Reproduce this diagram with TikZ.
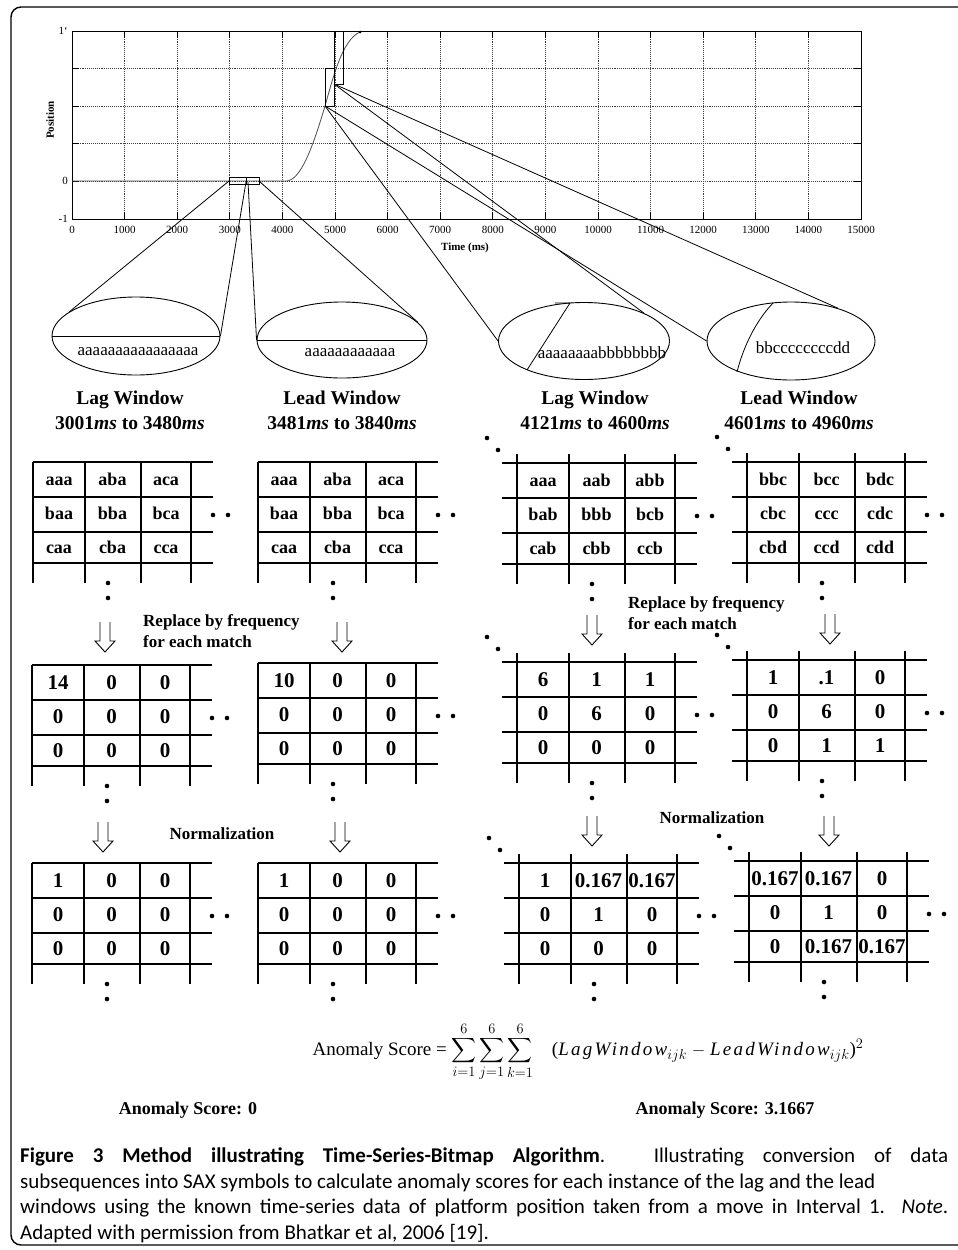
\documentclass[tikz,border=0pt]{standalone}
\usepackage{fontspec}
\usepackage{amsmath}
\setmainfont{Liberation Serif}
\newfontfamily\capfont{Carlito}
\newfontfamily\spacedit[LetterSpace=12]{Liberation Serif}
\usetikzlibrary{shapes.geometric}

\tikzset{
  gridln/.style={line width=1.5pt},
  cone/.style={line width=0.8pt},
  pgrid/.style={densely dotted, line width=0.9pt, black!75},
  zoomell/.style={draw, ellipse, line width=0.9pt, inner sep=0},
  saxtxt/.style={font=\fontsize{18}{18}\selectfont\bfseries, inner sep=0, text height=12pt, text depth=0pt},
  numtxt/.style={font=\fontsize{21}{21}\selectfont\bfseries, inner sep=0, text height=14pt, text depth=0pt},
  winlbl/.style={font=\fontsize{19.5}{25}\selectfont\bfseries, align=center, inner sep=0},
  stringtxt/.style={font=\fontsize{17}{17}\selectfont, inner sep=0},
  steplbl/.style={font=\fontsize{17}{21}\selectfont\bfseries, align=left, inner sep=0},
  ticklbl/.style={font=\fontsize{11}{11}\selectfont, inner sep=0},
}

% grid of one bitmap, #1 = overhang of the rows on the left
\newcommand{\bmgrid}[1]{%
  \foreach \gx in {0,52,108,158} \draw[gridln] (\gx,-0.6*#1) -- (\gx,121);
  \foreach \gy in {0,35,70,101} \draw[gridln] (-#1,\gy) -- (180,\gy);
  \fill (180,53) circle (2.3) (195,53) circle (2.3);
  \fill (75,121) circle (2.3) (75,136) circle (2.3);
}
% dots in front of the bitmaps of the second move
\newcommand{\leaddots}{\fill (-30,-25) circle (2.3) (-19,-13) circle (2.3);}
% cells: #1 name, #2 style, #3 rows
\newcommand{\bmcells}[3]{%
  \foreach \row [count=\r] in {#3} {
    \foreach \celltxt [count=\c] in \row {
      \node[#2] (#1-\r-\c) at ({26+53.5*(\c-1)},{17.5+34*(\r-1)}) {\celltxt};
    }
  }
}
% hollow down arrow, top of shaft at (#1,#2)
\newcommand{\hollowdown}[2]{%
  \draw[line width=0.9pt] (#1-5,#2) -- (#1-5,#2+19) -- (#1-10,#2+19) -- (#1,#2+30)
    -- (#1+10,#2+19) -- (#1+5,#2+19) -- (#1+5,#2);
}

\begin{document}
\begin{tikzpicture}[x=1pt, y=-1pt]
\useasboundingbox (0,0) rectangle (958,1250);
\draw[line width=1.4pt, rounded corners=10pt] (958,7) -- (11,7) -- (11,1245) -- (958,1245);

% Time series plot
\draw[pgrid] foreach \k in {1,...,14} {({72+52.6*\k},31) -- ({72+52.6*\k},219)};
\draw[pgrid] foreach \v in {68.6,106.2,143.8,181.4} {(72,\v) -- (861,\v)};
\foreach \k in {1,...,14} \draw[line width=0.8pt] ({72+52.6*\k},31) -- +(0,7) ({72+52.6*\k},219) -- +(0,-7);
\foreach \v in {68.6,106.2,143.8,181.4} \draw[line width=0.8pt] (72,\v) -- +(7,0) (861,\v) -- +(-7,0);
\draw[line width=1pt] (72,31) rectangle (861,219);
\foreach \k in {0,...,15} \node[ticklbl] (xt\k) at ({72+52.6*\k},230) {\number\numexpr\k*1000\relax};
\node[ticklbl, anchor=east] (yttop) at (68,31) {1‘};
\node[ticklbl, anchor=east] (ytzero) at (68,181) {0};
\node[ticklbl, anchor=east] (ytneg) at (68,219) {-1};
\node[ticklbl, font=\fontsize{11}{11}\selectfont\bfseries, rotate=90] (ylab) at (50,120) {Position};
\node[ticklbl, font=\fontsize{11}{11}\selectfont\bfseries] (xlab) at (465,248) {Time (ms)};
\draw[black!70, line width=0.8pt] (72,181) -- (286,181) .. controls (300,181) and (312,150) .. (325,106)
  .. controls (333,78) and (342,40) .. (360,32);
\fill (360,32) circle (1.5);
\draw[line width=0.9pt] (229,177) rectangle (246,184) (246,177) rectangle (259,184);
\draw[line width=0.9pt] (325,68) rectangle (334,106) (334,31) rectangle (343,84);
\coordinate (bx1w) at (229,181);
\coordinate (bx1e) at (246,182);
\coordinate (bx2w) at (248,182);
\coordinate (bx2e) at (259,181);
\coordinate (bxA) at (325,106);
\coordinate (bxB) at (334,84);

% Zoomed windows
\node[zoomell, minimum width=168pt, minimum height=78pt] (lagA) at (136,336) {};
\node[zoomell, minimum width=170pt, minimum height=76pt] (leadA) at (342,340) {};
\node[zoomell, minimum width=171pt, minimum height=77pt] (lagB) at (584,341) {};
\node[zoomell, minimum width=168pt, minimum height=78pt] (leadB) at (791,341) {};
\draw[cone] (lagA.west) -- (lagA.east);
\draw[cone] (leadA.west) -- (leadA.east);
\draw[cone] (555,303) -- (570,303) -- (527,370);
\draw[cone] (773,303) .. controls (755,322) and (743,348) .. (737,372);
\draw[cone] (bx1w) -- (lagA.160);
\draw[cone] (bx1e) -- (lagA.east);
\draw[cone] (bx2w) -- (leadA.west);
\draw[cone] (bx2e) -- (leadA.13);
\draw[cone] (bxA) -- (lagB.west);
\draw[cone] (bxA) -- (leadB.west);
\draw[cone] (bxB) -- (lagB.25);
\draw[cone] (bxB) -- (leadB.35);
\node[stringtxt] (lagAstr) at (138,352) {aaaaaaaaaaaaaaaa};
\node[stringtxt] (leadAstr) at (350,353) {aaaaaaaaaaaa};
\node[stringtxt] (lagBstr) at (602,353) {aaaaaaaabbbbbbbb};
\node[stringtxt] (leadBstr) at (803,348) {bbccccccccdd};
\node[winlbl] (lagAlbl) at (130,410) {Lag Window\\3001\textit{ms} to 3480\textit{ms}};
\node[winlbl] (leadAlbl) at (342,410) {Lead Window\\3481\textit{ms} to 3840\textit{ms}};
\node[winlbl] (lagBlbl) at (595,410) {Lag Window\\4121\textit{ms} to 4600\textit{ms}};
\node[winlbl] (leadBlbl) at (799,410) {Lead Window\\4601\textit{ms} to 4960\textit{ms}};

% SAX words
\begin{scope}[shift={(33,462)}]
\bmgrid{0}
\bmcells{saxA}{saxtxt}{{aaa,aba,aca},{baa,bba,bca},{caa,cba,cca}}
\end{scope}
\begin{scope}[shift={(258,462)}]
\bmgrid{0}
\bmcells{saxB}{saxtxt}{{aaa,aba,aca},{baa,bba,bca},{caa,cba,cca}}
\end{scope}
\begin{scope}[shift={(517,463)}]
\bmgrid{15} \leaddots
\bmcells{saxC}{saxtxt}{{aaa,aab,abb},{bab,bbb,bcb},{cab,cbb,ccb}}
\end{scope}
\begin{scope}[shift={(747,462)}]
\bmgrid{15} \leaddots
\bmcells{saxD}{saxtxt}{{bbc,bcc,bdc},{cbc,ccc,cdc},{cbd,ccd,cdd}}
\end{scope}

% Frequencies
\hollowdown{105}{622}
\hollowdown{342}{622}
\hollowdown{592}{615}
\hollowdown{830}{614}
\node[steplbl, anchor=west] (repA) at (143,631) {Replace by frequency\\for each match};
\node[steplbl, anchor=west] (repB) at (628,613) {Replace by frequency\\for each match};
\begin{scope}[shift={(32,665)}]
\bmgrid{0}
\bmcells{frqA}{numtxt}{{14,0,0},{0,0,0},{0,0,0}}
\end{scope}
\begin{scope}[shift={(258,663)}]
\bmgrid{0}
\bmcells{frqB}{numtxt}{{10,0,0},{0,0,0},{0,0,0}}
\end{scope}
\begin{scope}[shift={(517,662)}]
\bmgrid{15} \leaddots
\bmcells{frqC}{numtxt}{{6,1,1},{0,6,0},{0,0,0}}
\end{scope}
\begin{scope}[shift={(747,660)}]
\bmgrid{15} \leaddots
\bmcells{frqD}{numtxt}{{1,.1,0},{0,6,0},{0,1,1}}
\end{scope}

% Normalization
\hollowdown{103}{822}
\hollowdown{340}{822}
\hollowdown{592}{816}
\hollowdown{829}{816}
\node[steplbl] (normA) at (222,834) {Normalization};
\node[steplbl] (normB) at (712,818) {Normalization};
\begin{scope}[shift={(32,863)}]
\bmgrid{0}
\bmcells{nrmA}{numtxt}{{1,0,0},{0,0,0},{0,0,0}}
\end{scope}
\begin{scope}[shift={(258,863)}]
\bmgrid{0}
\bmcells{nrmB}{numtxt}{{1,0,0},{0,0,0},{0,0,0}}
\end{scope}
\begin{scope}[shift={(519,863)}]
\bmgrid{15} \leaddots
\bmcells{nrmC}{numtxt}{{1,0.167,0.167},{0,1,0},{0,0,0}}
\end{scope}
\begin{scope}[shift={(749,861)}]
\bmgrid{15} \leaddots
\bmcells{nrmD}{numtxt}{{0.167,0.167,0},{0,1,0},{0,0.167,0.167}}
\end{scope}

% Score
\node[inner sep=0, font=\fontsize{19}{22}\selectfont] (score) at (588,1052)
  {Anomaly Score = $\displaystyle\sum_{i=1}^{6}\sum_{j=1}^{6}\sum_{k=1}^{6}$\quad
   ({\spacedit\itshape LagWindow}$_{ijk}$ $-$ {\spacedit\itshape LeadWindow}$_{ijk}$)$^2$};
\node[inner sep=0, font=\fontsize{18}{18}\selectfont\bfseries] (scoreA) at (188,1110) {Anomaly Score: 0};
\node[inner sep=0, font=\fontsize{18}{18}\selectfont\bfseries] (scoreB) at (725,1110) {Anomaly Score: 3.1667};

% Caption
\node[anchor=north west, inner sep=0, text width=928pt, align=justify,
  font=\capfont\fontsize{21}{25.5}\selectfont] (cap) at (20,1148)
  {\textbf{Figure 3 Method illustrating Time-Series-Bitmap Algorithm}. Illustrating conversion of data\linebreak
   subsequences into SAX symbols to calculate anomaly scores for each instance of the lag and the lead\\
   windows using the known time-series data of platform position taken from a move in Interval 1. \textit{Note}.\linebreak
   Adapted with permission from Bhatkar et al, 2006 [19].};
\end{tikzpicture}
\end{document}
